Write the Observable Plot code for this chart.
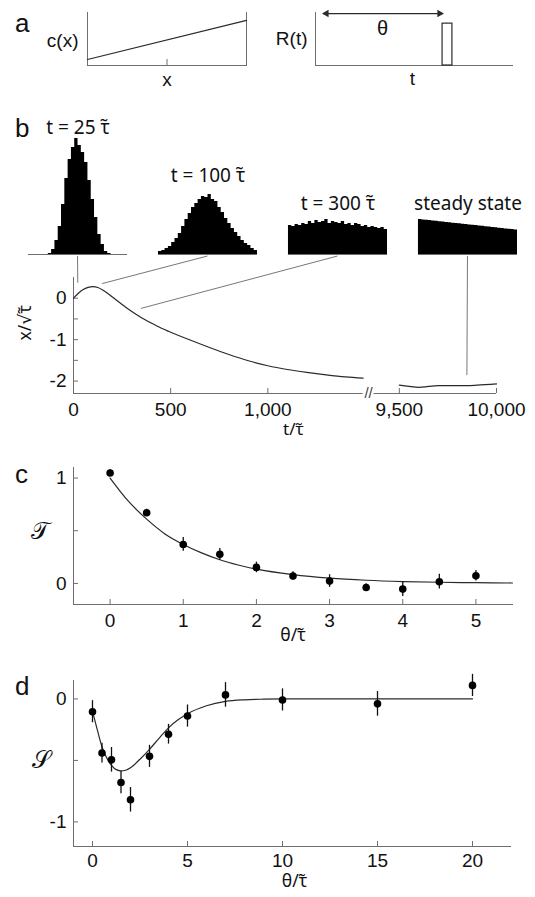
<!DOCTYPE html>
<html><head><meta charset="utf-8">
<script src="https://cdn.jsdelivr.net/npm/d3@7"></script>
<script src="https://cdn.jsdelivr.net/npm/@observablehq/plot@0.6"></script>
<style>
body{margin:0;background:#fff;}
#fig{position:relative;width:535px;height:897px;overflow:hidden;background:#fff;font-family:"Liberation Sans",Arial,sans-serif;}
</style></head><body><div id="fig"></div>
<script>
// ---------- DATA ----------
// panel a (schematics, unit coordinates)
const cxLineX = [0, 1];
const cxLineY = [0.113, 0.85];
const cxTicks = [0.5];
const pulseStart = 0.645, pulseEnd = 0.695, pulseHeight = 0.79;
const arrowFrom = 0.04, arrowTo = 0.645, arrowLevel = 0.98;
const thetaLabelX = 0.34, thetaLabelY = 0.70;

// panel b histograms (30 bins each, counts)
const histPanels = ["h1", "h2", "h3", "h4"];
const histTitles = ["t = 25 τ̃", "t = 100 τ̃", "t = 300 τ̃", "steady state"];
const histTitleLevel = [127, 79, 51, 51];
const histTimes = [25, 100, 300, 9850];
const hist1 = [0,0,0,0,0,0,1,5,14,28,50,76,95,107,116,109,102,92,74,55,37,20,10,3,1,0,0,0,0,0];
const hist2 = [3,4,6,8,12,16,21,28,35,41,47,51,55,58,57,60,55,53,47,42,36,31,26,22,18,14,11,9,6,4];
const hist3 = [29,28,30,29,31,30,33,31,34,32,33,35,31,33,32,31,33,30,31,29,31,30,28,29,27,28,27,26,27,25];
const hist4 = [35,34.6,34.2,33.9,33.5,33.2,32.8,32.4,32.1,31.8,31.3,31.0,30.7,30.3,30.0,29.6,29.3,28.9,28.5,28.2,27.8,27.4,27.1,26.8,26.3,26.0,25.6,25.3,24.9,24.5];

// panel b main trace
const bEarlyT = [0,25,50,75,100,125,150,175,200,250,300,350,400,450,500,600,700,800,900,1000,1100,1200,1300,1400,1500];
const bEarlyV = [0,0.12,0.21,0.26,0.28,0.26,0.20,0.12,0.03,-0.15,-0.32,-0.47,-0.60,-0.72,-0.82,-1.01,-1.19,-1.36,-1.51,-1.63,-1.72,-1.79,-1.85,-1.90,-1.93];
const bSteadyT = [9500,9550,9600,9650,9700,9800,9850,9900,10000];
const bSteadyV = [-2.10,-2.13,-2.15,-2.13,-2.11,-2.11,-2.11,-2.10,-2.07];
const bBreak = [1490, 9370];
const bXTicks = [0, 500, 1000, 9500, 10000];
const bYTicks = [-2, -1.5, -1, -0.5, 0];
const bYLabels = [-2, -1, 0];

// panel c
const cTheta = [0,0.5,1,1.5,2,2.5,3,3.5,4,4.5,5];
const cValue = [1.048,0.67,0.37,0.276,0.152,0.07,0.022,-0.038,-0.054,0.016,0.073];
const cErr = [0.03,0.035,0.065,0.055,0.05,0.04,0.06,0.035,0.07,0.07,0.05];
const cFitTheta = [0,0.25,0.5,0.75,1,1.25,1.5,1.75,2,2.5,3,3.5,4,4.5,5,5.5];
const cFitValue = [1.0,0.78,0.61,0.47,0.37,0.29,0.225,0.175,0.135,0.083,0.05,0.03,0.018,0.011,0.007,0.004];
const cXTicks = [0,1,2,3,4,5];
const cYTicks = [0,0.5,1];
const cYLabels = [0,1];

// panel d
const dTheta = [0,0.5,1,1.5,2,3,4,5,7,10,15,20];
const dValue = [-0.104,-0.44,-0.495,-0.68,-0.82,-0.467,-0.287,-0.139,0.033,-0.008,-0.04,0.11];
const dErr = [0.09,0.08,0.1,0.09,0.1,0.09,0.08,0.09,0.1,0.09,0.1,0.09];
const dFitTheta = [0,0.25,0.5,0.75,1,1.25,1.5,1.75,2,2.5,3,3.5,4,4.5,5,6,7,8,9,10,15,20];
const dFitValue = [-0.10,-0.25,-0.39,-0.48,-0.54,-0.575,-0.585,-0.58,-0.56,-0.49,-0.41,-0.32,-0.235,-0.17,-0.12,-0.055,-0.02,-0.007,-0.002,0,0,0];
const dXTicks = [0,5,10,15,20];
const dYTicks = [-1,-0.5,0];
const dYLabels = [-1,0];

// ---------- LAYOUT ----------
const W = 535;
const fig = document.getElementById("fig");
const FONT = '"Liberation Sans", Arial, sans-serif';
const TFONT = '"Noto Sans", "DejaVu Sans", sans-serif'; // for labels with a combining tilde
const baseStyle = {fontFamily: FONT, fontSize: "19px", color: "#111", background: "transparent", overflow: "visible"};
const axisGray = "#6e6e6e";
const ink = "#2a2a2a";
const fmt = d => String(d);

function place(svg, top) {
  svg.style.position = "absolute";
  svg.style.top = top + "px";
  svg.style.left = "0px";
  fig.appendChild(svg);
  return svg;
}

// ---- panel a, c(x)
{
  const m = {t: 12, b: 30, l: 87, r: 289}, H = 95;
  const fh = H - m.t - m.b;
  place(Plot.plot({
    width: W, height: H, marginTop: m.t, marginBottom: m.b, marginLeft: m.l, marginRight: m.r,
    x: {domain: [0, 1], axis: null}, y: {domain: [0, 1], axis: null},
    style: baseStyle,
    marks: [
      Plot.frame({anchor: "left", stroke: axisGray}),
      Plot.frame({anchor: "right", stroke: axisGray}),
      Plot.frame({anchor: "bottom", stroke: axisGray}),
      Plot.tickX(cxTicks, {x: d => d, insetTop: fh - 6, stroke: axisGray}),
      Plot.line(cxLineX.map((x, i) => ({x, y: cxLineY[i]})), {x: "x", y: "y", stroke: ink, strokeWidth: 1.2}),
      Plot.text(["c(x)"], {frameAnchor: "left", textAnchor: "end", dx: -9, dy: 1.5}),
      Plot.text(["x"], {frameAnchor: "bottom", dy: 20})
    ]
  }), 0);
}

// ---- panel a, R(t)
{
  const m = {t: 12, b: 30, l: 315, r: 23}, H = 95;
  const heads = [{x: arrowFrom, y: arrowLevel}, {x: arrowTo, y: arrowLevel}];
  place(Plot.plot({
    width: W, height: H, marginTop: m.t, marginBottom: m.b, marginLeft: m.l, marginRight: m.r,
    x: {domain: [0, 1], axis: null}, y: {domain: [0, 1], axis: null},
    style: baseStyle,
    marks: [
      Plot.frame({anchor: "left", stroke: axisGray}),
      Plot.frame({anchor: "bottom", stroke: axisGray}),
      Plot.rect([{x1: pulseStart, x2: pulseEnd, y1: 0, y2: pulseHeight}], {x1: "x1", x2: "x2", y1: "y1", y2: "y2", fill: "none", stroke: ink, strokeWidth: 1.2}),
      Plot.link([{x1: arrowFrom, x2: arrowTo, y: arrowLevel}], {x1: "x1", x2: "x2", y1: "y", y2: "y", stroke: ink, strokeWidth: 1.2}),
      Plot.dot(heads.slice(0, 1), {x: "x", y: "y", rotate: -90, dx: 3, symbol: "triangle2", r: 3.6, fill: ink}),
      Plot.dot(heads.slice(1), {x: "x", y: "y", rotate: 90, dx: -3, symbol: "triangle2", r: 3.6, fill: ink}),
      Plot.text(["θ"], {x: () => thetaLabelX, y: () => thetaLabelY, fontSize: 20}),
      Plot.text(["R(t)"], {frameAnchor: "left", textAnchor: "end", dx: -8, dy: -0.5}),
      Plot.text(["t"], {frameAnchor: "bottom", dy: 19, dx: -1.5})
    ]
  }), 0);
}

// ---- panel b, histograms
const phTop = 104;
const histSeries = [hist1, hist2, hist3, hist4];
const histRows = [];
histSeries.forEach((counts, k) => {
  counts.forEach((c, i) => histRows.push({panel: histPanels[k], bin: i, count: c}));
  histRows.push({panel: histPanels[k], bin: counts.length, count: counts[counts.length - 1]});
});
const titleRows = histPanels.map((p, k) => ({panel: p, label: histTitles[k], level: histTitleLevel[k]}));
const ph = place(Plot.plot({
  width: W, height: 152, marginTop: 0, marginBottom: 2, marginLeft: 28, marginRight: 18,
  fx: {domain: histPanels, axis: null, paddingInner: 0.238, paddingOuter: 0, round: false, label: null},
  x: {domain: [0, 30], axis: null}, y: {domain: [0, 150], axis: null},
  style: baseStyle,
  marks: [
    Plot.ruleY([0], {stroke: axisGray}),
    Plot.areaY(histRows, {fx: "panel", x: "bin", y: "count", curve: "step-after", fill: "#000"}),
    Plot.text(titleRows, {fx: "panel", x: () => 15, y: "level", text: "label", fontFamily: TFONT, fontSize: 19})
  ]
}), phTop);

// ---- panel b, main trace (broken axis)
const pbTop = 260;
const bM = {t: 17, b: 47, l: 73, r: 39}, bH = 180;
const bLeft = bM.l, bRight = W - bM.r, gapPx = 11;
const bK = (bRight - bLeft - gapPx) / ((bBreak[0] - 0) + (10000 - bBreak[1]));
const bRange = [bLeft, bLeft + bBreak[0] * bK, bLeft + bBreak[0] * bK + gapPx, bRight];
const bYDom = [-2.3, 0.5];
const bCurve = [
  ...bEarlyT.map((t, i) => ({t, v: bEarlyV[i], seg: "early"})),
  ...bSteadyT.map((t, i) => ({t, v: bSteadyV[i], seg: "steady"}))
];
const bFH = bH - bM.t - bM.b, bFW = W - bM.l - bM.r;
const pb = place(Plot.plot({
  width: W, height: bH, marginTop: bM.t, marginBottom: bM.b, marginLeft: bM.l, marginRight: bM.r,
  x: {type: "linear", domain: [0, bBreak[0], bBreak[1], 10000], range: bRange, label: null},
  y: {domain: bYDom, label: null},
  style: baseStyle,
  marks: [
    Plot.frame({anchor: "left", stroke: axisGray}),
    Plot.ruleY([{a: 0, b: bBreak[0]}, {a: bBreak[1], b: 10000}], {y: () => bYDom[0], x1: "a", x2: "b", stroke: axisGray}),
    Plot.text(["//"], {x: () => (bBreak[0] + bBreak[1]) / 2, y: () => bYDom[0], fontSize: 15, fill: "#444"}),
    Plot.tickX(bXTicks, {x: d => d, insetTop: bFH - 5, stroke: axisGray}),
    Plot.tickY(bYTicks, {y: d => d, insetRight: bFW - 5, stroke: axisGray}),
    Plot.axisX({ticks: bXTicks, tickSize: 0, tickPadding: 8.5, tickFormat: d3.format(","), label: null}),
    Plot.axisY({ticks: bYLabels, tickSize: 0, tickPadding: 7, tickFormat: fmt, label: null}),
    Plot.line(bCurve, {x: "t", y: "v", z: "seg", stroke: ink, strokeWidth: 1.2, curve: "monotone-x"}),
    Plot.text(["t/τ̃"], {frameAnchor: "bottom", dy: 41, dx: 8.5, fontFamily: TFONT, fontSize: 17}),
    Plot.text(["x/√τ̃"], {frameAnchor: "left", rotate: -90, dx: -48, dy: 5, fontFamily: TFONT, fontSize: 17.5})
  ]
}), pbTop);

// ---- panel c
{
  const m = {t: 27, b: 46, l: 73, r: 23}, H = 210;
  const fh = H - m.t - m.b, fw = W - m.l - m.r;
  const rows = cTheta.map((x, i) => ({x, y: cValue[i], e: cErr[i]}));
  const fit = cFitTheta.map((x, i) => ({x, y: cFitValue[i]}));
  place(Plot.plot({
    width: W, height: H, marginTop: m.t, marginBottom: m.b, marginLeft: m.l, marginRight: m.r,
    x: {domain: [-0.5, 5.5], label: null}, y: {domain: [-0.2, 1.1], label: null},
    style: baseStyle,
    marks: [
      Plot.frame({anchor: "left", stroke: axisGray}),
      Plot.frame({anchor: "bottom", stroke: axisGray}),
      Plot.tickX(cXTicks, {x: d => d, insetTop: fh - 5, stroke: axisGray}),
      Plot.tickY(cYTicks, {y: d => d, insetRight: fw - 5, stroke: axisGray}),
      Plot.axisX({ticks: cXTicks, tickSize: 0, tickPadding: 9, tickFormat: fmt, label: null}),
      Plot.axisY({ticks: cYLabels, tickSize: 0, tickPadding: 7, tickFormat: fmt, label: null}),
      Plot.line(fit, {x: "x", y: "y", stroke: ink, strokeWidth: 1.2, curve: "monotone-x"}),
      Plot.ruleX(rows, {x: "x", y1: d => d.y - d.e, y2: d => d.y + d.e, stroke: "#111", strokeWidth: 1.3}),
      Plot.dot(rows, {x: "x", y: "y", r: 3.8, fill: "#000"}),
      Plot.text(["θ/τ̃"], {frameAnchor: "bottom", dy: 36, fontFamily: TFONT, fontSize: 17.5}),
      Plot.text(["𝒯"], {frameAnchor: "left", dx: -43, dy: -5, fontSize: 24, fontFamily: "DejaVu Serif, serif"})
    ]
  }), 440);
}

// ---- panel d
{
  const m = {t: 30, b: 51, l: 73, r: 25}, H = 247;
  const fh = H - m.t - m.b, fw = W - m.l - m.r;
  const rows = dTheta.map((x, i) => ({x, y: dValue[i], e: dErr[i]}));
  const fit = dFitTheta.map((x, i) => ({x, y: dFitValue[i]}));
  place(Plot.plot({
    width: W, height: H, marginTop: m.t, marginBottom: m.b, marginLeft: m.l, marginRight: m.r,
    x: {domain: [-1, 22], label: null}, y: {domain: [-1.2, 0.15], label: null},
    style: baseStyle,
    marks: [
      Plot.frame({anchor: "left", stroke: axisGray}),
      Plot.frame({anchor: "bottom", stroke: axisGray}),
      Plot.tickX(dXTicks, {x: d => d, insetTop: fh - 5, stroke: axisGray}),
      Plot.tickY(dYTicks, {y: d => d, insetRight: fw - 5, stroke: axisGray}),
      Plot.axisX({ticks: dXTicks, tickSize: 0, tickPadding: 7, tickFormat: fmt, label: null}),
      Plot.axisY({ticks: dYLabels, tickSize: 0, tickPadding: 7, tickFormat: fmt, label: null}),
      Plot.line(fit, {x: "x", y: "y", stroke: ink, strokeWidth: 1.2, curve: "monotone-x"}),
      Plot.ruleX(rows, {x: "x", y1: d => d.y - d.e, y2: d => d.y + d.e, stroke: "#111", strokeWidth: 1.3}),
      Plot.dot(rows, {x: "x", y: "y", r: 3.8, fill: "#000"}),
      Plot.text(["θ/τ̃"], {frameAnchor: "bottom", dy: 40, dx: 2.5, fontFamily: TFONT, fontSize: 17.5}),
      Plot.text(["𝒮"], {frameAnchor: "left", dx: -42, dy: -3, fontSize: 24, fontFamily: "DejaVu Serif, serif"})
    ]
  }), 650);
}

// ---- overlay: connectors and panel letters
const ov = d3.create("svg").attr("width", W).attr("height", 897)
  .style("position", "absolute").style("left", "0px").style("top", "0px").style("pointer-events", "none");
const fxS = ph.scale("fx"), hyS = ph.scale("y");
const bxS = pb.scale("x"), byS = pb.scale("y");
histPanels.forEach((p, k) => {
  const hx = fxS.apply(p) + fxS.bandwidth / 2;
  const hy = phTop + hyS.apply(0) + 2;
  const t = histTimes[k];
  const pt = bCurve.find(d => d.t === t);
  const cx = bxS.apply(t), cy = pbTop + byS.apply(pt.v);
  const dx = hx - cx, dy = hy - cy, L = Math.hypot(dx, dy);
  ov.append("line").attr("x1", hx).attr("y1", hy)
    .attr("x2", cx + 10 * dx / L).attr("y2", cy + 10 * dy / L)
    .attr("stroke", "#777").attr("stroke-width", 1);
});
const letters = [["a", 15, 32], ["b", 15, 137], ["c", 15, 483], ["d", 15, 695]];
ov.selectAll("text.lbl").data(letters).join("text")
  .attr("x", d => d[1]).attr("y", d => d[2]).text(d => d[0])
  .attr("font-family", FONT).attr("font-size", 26).attr("fill", "#111");
fig.appendChild(ov.node());
</script></body></html>
